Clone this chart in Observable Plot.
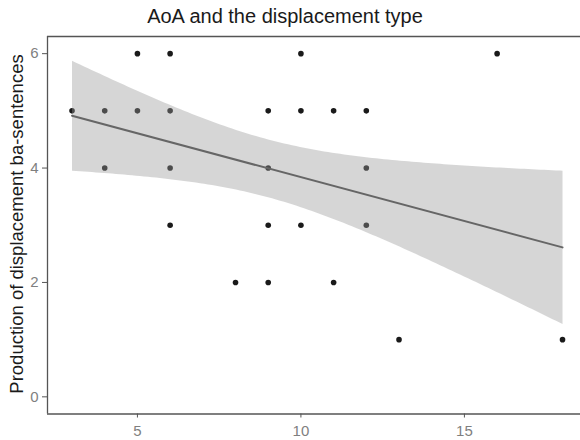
<!DOCTYPE html>
<html><head><meta charset="utf-8">
<script src="https://cdn.jsdelivr.net/npm/d3@7"></script>
<script src="https://cdn.jsdelivr.net/npm/@observablehq/plot@0.6"></script>
<style>
body{margin:0;background:#fff;font-family:"Liberation Sans",Arial,sans-serif;}
#wrap{position:relative;width:580px;height:440px;overflow:hidden;}
#title{position:absolute;left:0;top:6px;width:570px;text-align:center;font-size:20px;line-height:20px;color:#1a1a1a;}
#ylab{position:absolute;left:-183px;top:214px;width:400px;height:20px;text-align:center;font-size:18.5px;line-height:20px;color:#1a1a1a;transform:rotate(-90deg);white-space:nowrap;}
</style></head>
<body><div id="wrap"><div id="title">AoA and the displacement type</div><div id="ylab">Production of displacement ba-sentences</div></div>
<script>
// Age of acquisition (x) and production count (y), one entry per point
const aoa =        [5, 6, 10, 16,  3, 4, 5, 6, 9, 10, 11, 12,  4, 6, 9, 12,  6, 9, 10, 12,  8, 9, 11,  13, 18];
const production = [6, 6, 6, 6,    5, 5, 5, 5, 5, 5, 5, 5,     4, 4, 4, 4,   3, 3, 3, 3,     2, 2, 2,   1, 1];
const xTicks = [5, 10, 15];
const yTicks = [0, 2, 4, 6];
const xDomain = [2.25, 18.55];
const yDomain = [-0.3, 6.3];

const data = aoa.map((x, i) => ({x, y: production[i]}));
const axisColor = "#555";

const chart = Plot.plot({
  width: 580,
  height: 440,
  marginLeft: 47,
  marginRight: 0,
  marginTop: 36,
  marginBottom: 26.5,
  style: {fontFamily: "'Liberation Sans', Arial, sans-serif", fontSize: "15px", background: "transparent"},
  x: {domain: xDomain, ticks: xTicks, label: null},
  y: {domain: yDomain, ticks: yTicks, label: null},
  marks: [
    Plot.dot(data, {x: "x", y: "y", r: 2.8, fill: "#1a1a1a", stroke: "none"}),
    Plot.linearRegressionY(data, {x: "x", y: "y", stroke: "#666", strokeWidth: 2, fill: "#999", fillOpacity: 0.4, ci: 0.9}),
    Plot.ruleX([xDomain[0]], {stroke: axisColor, strokeWidth: 1.3}),
    Plot.ruleY([yDomain[0]], {stroke: axisColor, strokeWidth: 1.3}),
    Plot.ruleY([yDomain[1]], {stroke: axisColor, strokeWidth: 1.3}),
    Plot.axisX({ticks: xTicks, tickFormat: d3.format("d"), tickSize: 4, tickPadding: 7, stroke: axisColor, color: "#7f7f7f", label: null}),
    Plot.axisY({ticks: yTicks, tickFormat: d3.format("d"), tickSize: 5, tickPadding: 4, stroke: axisColor, color: "#7f7f7f", label: null})
  ]
});
chart.querySelectorAll("g[aria-label='x-axis tick label'], g[aria-label='y-axis tick label']").forEach(g => {
  g.setAttribute("font-size", "15");
  g.querySelectorAll("text").forEach(t => t.setAttribute("font-size", "15"));
});
document.getElementById("wrap").appendChild(chart);
</script>
</body></html>
